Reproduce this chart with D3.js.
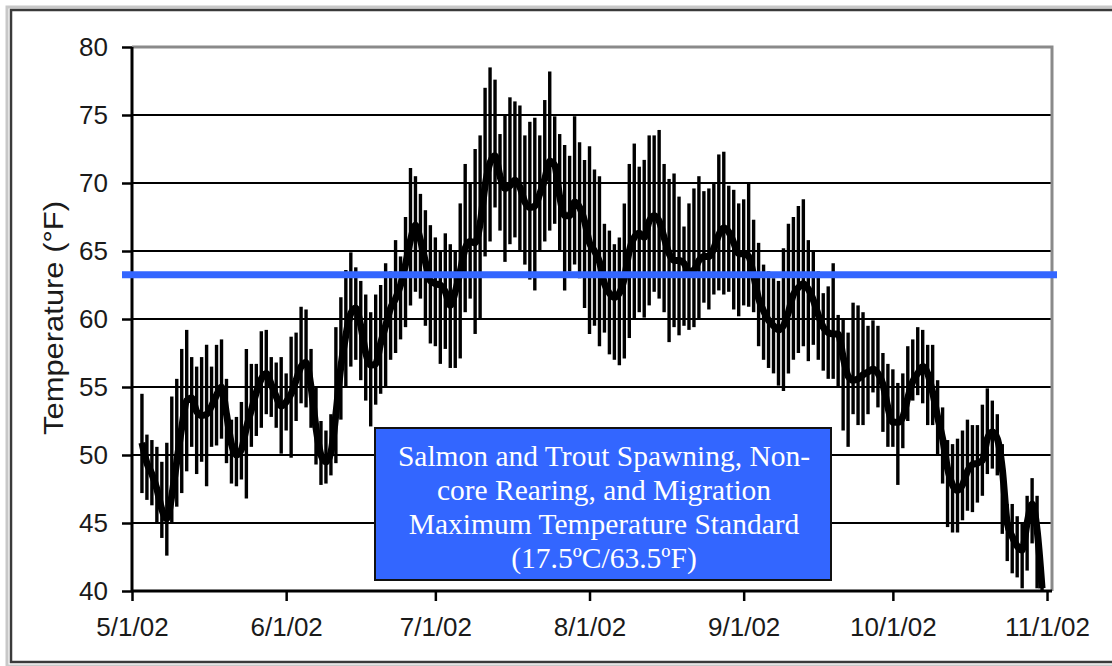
<!DOCTYPE html>
<html><head><meta charset="utf-8">
<script src="https://cdn.jsdelivr.net/npm/d3@7"></script>
<style>
html,body{margin:0;padding:0;background:#fff;}
svg{display:block;}
</style></head>
<body>
<svg id="chart" width="1112" height="666"></svg>
<script>
// ---- data (daily water temperature, °F), first day 5/3/02 ----
const firstDay = "2002-05-03";
const dailyMean = [
50.9,49.4,48.6,47.5,46.0,45.3,47.0,49.5,52.0,54.0,
54.2,53.2,52.9,53.0,53.6,54.4,55.0,53.0,50.8,50.0,
50.4,52.0,53.3,54.6,55.6,56.0,55.2,54.3,53.6,53.9,
54.5,55.5,56.5,56.8,55.0,52.0,50.0,49.5,50.2,53.0,
56.5,58.8,60.4,60.8,59.5,57.5,56.6,56.7,58.2,59.5,
60.8,61.5,62.5,64.0,65.8,66.9,65.8,64.2,62.8,62.6,
62.5,62.0,61.0,62.0,63.5,65.2,65.7,65.6,67.0,69.8,
71.5,72.0,70.5,69.6,69.8,70.2,69.7,68.6,68.2,68.3,
69.2,70.3,71.6,71.3,69.0,67.6,67.6,68.6,68.2,67.2,
65.6,65.0,64.2,62.6,61.9,61.6,61.9,63.0,65.0,66.0,
66.3,66.0,67.2,67.6,67.2,66.0,64.8,64.3,64.3,64.1,
63.5,63.6,64.3,64.6,64.6,65.2,66.2,66.7,66.4,65.6,
64.8,64.8,64.6,63.2,61.5,60.6,59.9,59.5,59.2,59.5,
60.5,61.8,62.3,62.6,62.2,61.4,60.3,59.4,59.0,58.9,
58.9,57.2,55.8,55.5,55.6,55.9,56.1,56.3,56.0,55.2,
53.5,52.4,52.4,52.8,54.2,55.4,56.0,56.5,56.0,54.6,
52.8,51.2,49.0,47.8,47.4,47.8,48.8,49.3,49.4,49.6,
51.2,51.7,51.2,49.0,45.0,44.0,43.3,43.0,45.0,46.4,
44.5,40.2
];
const dailyMax = [
54.5,51.5,51.1,50.6,49.5,50.9,54.3,55.6,57.8,59.2,
57.2,56.5,57.2,58.1,56.5,58.1,58.5,55.6,52.6,52.8,
53.9,57.8,56.7,56.7,59.1,59.2,57.2,56.8,57.2,56.0,
58.7,59.0,60.9,60.7,57.8,55.0,52.5,51.8,53.0,59.4,
61.6,63.6,64.9,63.8,62.8,61.8,60.5,61.8,62.5,64.1,
63.5,65.8,64.6,67.5,71.1,70.5,69.2,68.0,66.9,66.0,
65.0,66.3,65.5,65.0,68.5,71.4,70.0,72.5,73.5,77.0,
78.5,77.6,73.6,75.0,76.3,76.0,75.7,73.5,74.5,74.8,
73.5,76.1,78.2,74.9,73.6,72.8,72.0,74.9,73.0,71.7,
72.7,71.0,70.5,67.0,66.5,65.5,66.0,68.5,71.4,72.9,
71.2,71.7,73.5,73.5,73.9,71.4,70.3,70.7,69.0,66.8,
68.5,69.6,70.5,69.4,69.6,70.0,72.1,72.3,69.8,69.5,
68.5,68.8,70.0,67.3,65.6,64.0,63.5,63.0,62.8,65.2,
67.0,67.5,68.3,68.8,65.8,65.0,63.5,61.9,62.4,64.1,
60.3,60.0,59.0,61.2,61.0,60.5,59.5,59.9,59.5,57.5,
56.7,56.3,55.3,56.0,58.0,58.5,59.4,59.2,58.1,58.1,
55.5,53.5,51.1,50.8,51.2,51.8,52.6,52.2,52.2,53.7,
54.9,54.0,53.0,50.8,46.4,46.4,45.5,45.0,47.0,48.3,
47.0,41.0
];
const dailyMin = [
47.2,46.7,46.3,45.0,43.9,42.6,45.0,46.2,47.2,48.8,
50.6,48.6,49.5,47.7,50.6,50.7,51.2,49.4,47.9,47.7,
48.2,46.8,50.6,51.4,52.0,53.0,52.8,52.0,50.1,51.8,
49.8,52.5,53.8,53.5,52.0,49.3,47.8,47.9,48.5,49.4,
52.6,55.0,56.5,57.0,55.5,54.0,52.1,53.7,54.5,55.0,
57.0,57.5,58.5,59.4,61.0,62.0,61.5,59.5,58.2,58.0,
56.7,57.8,56.4,56.4,57.1,60.5,61.5,58.9,60.0,64.6,
65.7,68.2,66.5,64.2,65.5,66.0,65.0,64.0,62.9,62.1,
65.0,65.7,66.5,67.0,65.0,62.1,63.5,64.0,63.0,60.8,
58.9,59.5,58.0,59.0,57.4,57.0,56.6,57.1,58.6,60.0,
60.5,60.1,61.0,62.0,61.5,60.5,58.3,59.4,58.8,59.5,
59.2,59.4,60.0,61.2,60.7,61.8,62.1,61.8,62.0,60.7,
60.2,61.0,60.9,60.5,58.0,57.0,56.4,56.0,55.1,54.7,
56.0,57.0,57.5,58.0,56.9,58.1,57.0,56.2,55.6,55.6,
55.0,51.8,50.6,53.0,52.2,52.2,53.0,54.6,53.5,51.7,
50.6,50.6,47.8,50.5,52.5,54.0,54.4,53.8,52.2,52.2,
50.0,47.9,44.7,44.3,44.3,45.2,45.9,45.8,46.5,47.0,
48.6,49.0,48.5,44.2,42.2,41.3,41.0,40.2,41.5,43.5,
40.2,39.5
];
const yTicks = [40,45,50,55,60,65,70,75,80];
const xTickDates = ["2002-05-01","2002-06-01","2002-07-01","2002-08-01","2002-09-01","2002-10-01","2002-11-01"];
const xDomain = ["2002-05-01","2002-11-02"];
const standardValue = 63.25;
const yTitle = "Temperature (°F)";
const noteLines = ["Salmon and Trout Spawning, Non-","core Rearing, and Migration","Maximum Temperature Standard","(17.5ºC/63.5ºF)"];

// ---- build ----
const parse = d3.utcParse("%Y-%m-%d");
const start = parse(firstDay);
const data = dailyMean.map((m,i)=>({date:d3.utcDay.offset(start,i), mean:m, max:dailyMax[i], min:dailyMin[i]}));

const svg = d3.select("#chart");
const L=132, R=1052, T=47, B=591;
const x = d3.scaleUtc().domain(xDomain.map(parse)).range([L,R]);
const y = d3.scaleLinear().domain([40,80]).range([B,T]);

// outer frame
svg.append("rect").attr("x",7).attr("y",7).attr("width",1120).attr("height",659)
  .attr("fill","none").attr("stroke","#c8c8c8").attr("stroke-width",3);
svg.append("rect").attr("x",11).attr("y",10).attr("width",1120).attr("height",652)
  .attr("fill","#fff").attr("stroke","#3a3a3a").attr("stroke-width",2.5);

// gridlines
svg.append("g").selectAll("line").data(yTicks.filter(v=>v>40 && v<80)).join("line")
  .attr("x1",L).attr("x2",R).attr("y1",d=>y(d)).attr("y2",d=>y(d))
  .attr("stroke","#000").attr("stroke-width",2.2);
// plot border top/right (gray)
svg.append("path").attr("d",`M${L},${y(80)}H${R}V${B}`).attr("fill","none")
  .attr("stroke","#8a8a8a").attr("stroke-width",3);

// clip
svg.append("clipPath").attr("id","clip").append("rect")
  .attr("x",L).attr("y",T).attr("width",R-L).attr("height",B-T);
const plot = svg.append("g").attr("clip-path","url(#clip)");

// daily range bars
plot.append("g").selectAll("line").data(data).join("line")
  .attr("x1",d=>x(d.date)).attr("x2",d=>x(d.date))
  .attr("y1",d=>y(d.max)).attr("y2",d=>y(d.min))
  .attr("stroke","#000").attr("stroke-width",3.4);
// mean line
plot.append("path").datum(data)
  .attr("d",d3.line().x(d=>x(d.date)).y(d=>y(d.mean)).curve(d3.curveMonotoneX))
  .attr("fill","none").attr("stroke","#000").attr("stroke-width",7)
  .attr("stroke-linejoin","round");

// axes
const yAxis = svg.append("g").attr("transform",`translate(${L},0)`)
  .call(d3.axisLeft(y).tickValues(yTicks).tickSize(10).tickPadding(14).tickFormat(d3.format("d")));
const xAxis = svg.append("g").attr("transform",`translate(0,${B})`)
  .call(d3.axisBottom(x).tickValues(xTickDates.map(parse)).tickSize(10).tickPadding(17)
    .tickFormat(d3.utcFormat("%-m/%-d/%y")));
[yAxis,xAxis].forEach(g=>{
  g.select(".domain").attr("stroke","#000").attr("stroke-width",3);
  g.selectAll(".tick line").attr("stroke","#000").attr("stroke-width",2.5);
  g.selectAll("text").attr("font-family","'Liberation Sans', Arial, sans-serif")
    .attr("font-size",26).attr("fill","#1a1a1a");
});
yAxis.select(".domain").attr("d",`M0,${B}V${T}`);
xAxis.select(".domain").attr("d",`M${L},0H${R}`);

// standard line
svg.append("line").attr("x1",122).attr("x2",1057)
  .attr("y1",y(standardValue)).attr("y2",y(standardValue))
  .attr("stroke","#3366ff").attr("stroke-width",7);

// y title
svg.append("text").attr("transform",`translate(63,${318}) rotate(-90)`)
  .attr("text-anchor","middle").attr("font-family","'Liberation Sans', Arial, sans-serif")
  .attr("font-size",28).attr("fill","#1a1a1a").attr("textLength",234).attr("lengthAdjust","spacingAndGlyphs")
  .text(yTitle);

// note box
svg.append("rect").attr("x",375).attr("y",428).attr("width",456).attr("height",152)
  .attr("fill","#3366ff").attr("stroke","#111").attr("stroke-width",2);
svg.append("g").selectAll("text").data(noteLines).join("text")
  .attr("x",604).attr("y",(d,i)=>466+i*34).attr("text-anchor","middle")
  .attr("font-family","'Liberation Serif','Times New Roman',serif").attr("font-size",29.5)
  .attr("fill","#fff").text(d=>d);
</script>
</body></html>
